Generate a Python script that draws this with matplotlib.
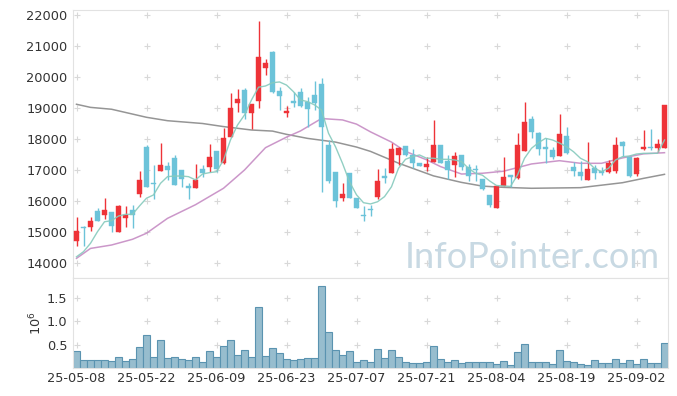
import numpy as np
import matplotlib
matplotlib.use("Agg")
import matplotlib.pyplot as plt

# === Data ===
dates = ["25-05-08", "25-05-22", "25-06-09", "25-06-23", "25-07-07",
         "25-07-21", "25-08-04", "25-08-19", "25-09-02"]
date_pos = [0, 10, 20, 30, 40, 50, 60, 70, 80]

opens = [14720, 15170, 15170, 15680, 15560, 15645, 14990, 15460, 15710, 16230,
         17730, 16560, 16980, 17130, 17390, 17000, 16480, 16430, 17030, 17100,
         17610, 17220, 18070, 19170, 19580, 18850, 19230, 20280, 20800, 19560,
         18850, 19225, 19505, 19185, 19420, 19775, 17800, 16935, 16110, 16890,
         16105, 15530, 15720, 16120, 16800, 16895, 17475, 17775, 17485, 17225,
         17105, 17250, 17815, 17300, 17160, 17485, 17105, 17040, 16710, 16195,
         15785, 16495, 16830, 16730, 17615, 18645, 18185, 17730, 17645, 17460,
         18095, 17085, 16945, 16677, 17055, 16975, 16945, 16975, 17915, 17410,
         16860, 17677, 17750, 17700, 17700]
highs = [15490, 15180, 15480, 15760, 16100, 15650, 15880, 15840, 15870, 16970,
         17800, 17160, 17860, 17260, 17480, 17000, 16590, 17190, 17160, 17830,
         17620, 18350, 19470, 19600, 19635, 19130, 21820, 20570, 20840, 19690,
         19075, 19510, 19635, 19365, 19880, 19960, 17970, 16935, 16570, 16890,
         16105, 15840, 15870, 17020, 17055, 17860, 17730, 17775, 17665, 17230,
         17410, 18610, 17815, 17485, 17590, 17485, 17195, 17160, 16720, 16195,
         16485, 17410, 16830, 18185, 19200, 18740, 18235, 18020, 17730, 18805,
         18375, 17270, 17300, 17895, 17160, 17105, 17325, 18075, 17950, 17420,
         17430, 18290, 18325, 18000, 19100]
lows = [14550, 14560, 15040, 15360, 15410, 14990, 14990, 15170, 15130, 16140,
        16460, 16060, 16980, 16680, 16500, 16460, 16060, 16430, 16780, 16950,
        16945, 17200, 18070, 18880, 18635, 18310, 18990, 20065, 19475, 18930,
        18700, 19040, 19040, 18400, 18935, 16280, 16570, 15815, 16010, 16100,
        15785, 15355, 15500, 16055, 16570, 16890, 17160, 17450, 17075, 17130,
        16980, 17245, 17215, 16710, 16785, 17000, 16655, 16655, 16370, 15795,
        15785, 16490, 16460, 16700, 17600, 18020, 17485, 17215, 17345, 17450,
        17505, 16815, 16675, 16677, 16700, 16840, 16895, 16900, 17460, 16765,
        16805, 17645, 17645, 17590, 17700]
closes = [15030, 15120, 15355, 15360, 15710, 15200, 15840, 15550, 15540, 16680,
          16460, 16540, 17160, 17000, 16520, 16720, 16430, 16680, 16910, 17420,
          17030, 18030, 19000, 19290, 18850, 19130, 20650, 20450, 19530, 19390,
          18910, 19150, 19075, 18975, 19170, 18400, 16655, 16010, 16225, 16105,
          15785, 15510, 15700, 16645, 16750, 17665, 17700, 17485, 17215, 17140,
          17205, 17815, 17215, 17000, 17450, 17110, 16805, 17000, 16380, 15870,
          16485, 16765, 16785, 17805, 18550, 18235, 17665, 17690, 17430, 18160,
          17560, 16980, 16805, 17030, 16895, 16895, 17215, 17805, 17785, 16815,
          17375, 17752, 17710, 17840, 19100]
volumes = [0.362, 0.17, 0.17, 0.17, 0.17, 0.149, 0.227, 0.149, 0.19, 0.44,
           0.695, 0.227, 0.589, 0.206, 0.227, 0.19, 0.17, 0.227, 0.128, 0.362,
           0.227, 0.46, 0.589, 0.277, 0.376, 0.227, 1.29, 0.248, 0.419, 0.312,
           0.19, 0.17, 0.19, 0.206, 0.206, 1.745, 0.759, 0.376, 0.27, 0.355,
           0.128, 0.163, 0.128, 0.397, 0.206, 0.376, 0.227, 0.12, 0.1, 0.1,
           0.12, 0.46, 0.184, 0.12, 0.163, 0.1, 0.12, 0.12, 0.12, 0.12,
           0.078, 0.142, 0.057, 0.333, 0.504, 0.12, 0.12, 0.12, 0.078, 0.376,
           0.142, 0.12, 0.078, 0.057, 0.163, 0.1, 0.1, 0.184, 0.1, 0.163,
           0.078, 0.184, 0.1, 0.1, 0.525]

ma5 = [14200, 14365, 14635, 15010, 15330, 15365, 15515, 15570, 15570, 15840,
       16090, 16195, 16570, 16785, 16805, 16805, 16785, 16680, 16870, 16915,
       16945, 17320, 17970, 18450, 18775, 19260, 19670, 19710, 19815, 19840,
       19740, 19525, 19260, 19205, 19100, 18935, 18185, 17750, 17215, 16620,
       16200, 15945, 15905, 15975, 16140, 16460, 17055, 17345, 17430, 17485,
       17380, 17380, 17345, 17345, 17325, 17270, 17055, 16895, 16830, 16650,
       16500, 16484, 16470, 16840, 17377, 17700, 17881, 18022, 17968, 17870,
       17752, 17590, 17377, 17268, 17055, 16945, 17055, 17323, 17429, 17452,
       17516, 17538, 17538, 17538, 17968]

ma20_idx = [0, 2, 5, 8, 10, 13, 17, 21, 24, 27, 30, 32, 35, 38, 40, 42, 45,
            47, 50, 52, 55, 58, 61, 65, 69, 72, 75, 78, 81, 84]
ma20_val = [14150, 14470, 14580, 14765, 14960, 15440, 15880, 16410, 17000,
            17720, 18060, 18260, 18660, 18615, 18480, 18230, 17900, 17600,
            17330, 17110, 16870, 16895, 16960, 17195, 17300, 17216, 17216,
            17390, 17520, 17558]

ma60_idx = [0, 2, 5, 10, 13, 18, 21, 25, 28, 30, 33, 37, 40, 42, 46, 51, 55,
            58, 61, 65, 72, 78, 81, 84]
ma60_val = [19120, 19020, 18960, 18700, 18590, 18500, 18400, 18290, 18255,
            18150, 18020, 17900, 17740, 17600, 17220, 16810, 16600, 16480,
            16440, 16410, 16430, 16590, 16730, 16860]

# === Style ===
UP = "#EE3338"
DOWN = "#6CC3D9"
GRID = "#D8D8D8"
SPINE = "#E2E2E2"
TXT = "#333333"

plt.rcParams["font.family"] = ["DejaVu Sans"]

fig = plt.figure(figsize=(6.77, 3.96), dpi=100)
ax = fig.add_axes([73 / 677, 1 - 278 / 396, 595 / 677, 268 / 396])
axv = fig.add_axes([73 / 677, 1 - 368 / 396, 595 / 677, 90 / 396], sharex=ax)

x = np.arange(len(closes))
o = np.array(opens)
c = np.array(closes)
up = c >= o
colors = np.where(up, UP, DOWN)

# grid as small plus marks
price_ticks = np.arange(14000, 22001, 1000)
gx, gy = np.meshgrid(date_pos, price_ticks)
ax.scatter(gx.ravel(), gy.ravel(), marker="+", s=18, color=GRID, lw=0.8, zorder=0)

# moving averages
ax.plot(ma60_idx, ma60_val, color="#8A8A8A", lw=1.1, alpha=0.9, zorder=2)
ax.plot(ma20_idx, ma20_val, color="#C68CC4", lw=1.1, alpha=0.9, zorder=2)
ax.plot(x, ma5, color="#86CABD", lw=1.0, alpha=0.9, zorder=4)

# candles
ax.vlines(x, lows, highs, colors=colors, lw=1.0, zorder=3)
body_h = np.maximum(np.abs(c - o), 40)
ax.bar(x, body_h, bottom=np.minimum(o, c), width=0.72, color=colors,
       edgecolor=colors, lw=0.3, zorder=3)

ax.set_xlim(-0.5, 84.5)
ax.set_ylim(13516, 22161)
ax.set_yticks(price_ticks)
ax.set_yticklabels([str(v) for v in price_ticks])
ax.tick_params(axis="y", length=0, labelsize=9.3, colors=TXT, pad=4)
ax.tick_params(axis="x", length=0, labelbottom=False)
for s in ax.spines.values():
    s.set_color(SPINE)

ax.text(0.986, 0.037, "InfoPointer.com", transform=ax.transAxes,
        ha="right", va="baseline", fontsize=26, color="#C8D9E3",
        family=["Lato", "DejaVu Sans"], zorder=1)

# volume
vol_ticks = [0.5, 1.0, 1.5]
vx, vy = np.meshgrid(date_pos, vol_ticks)
axv.scatter(vx.ravel(), vy.ravel(), marker="+", s=18, color=GRID, lw=0.8, zorder=0)
axv.bar(x, volumes, width=1.0, color="#97BDCE", edgecolor="#5A93B0",
        lw=0.8, zorder=2)
axv.set_ylim(0, 1.915)
axv.set_yticks(vol_ticks)
axv.set_yticklabels(["0.5", "1.0", "1.5"])
axv.tick_params(axis="y", length=0, labelsize=9.3, colors=TXT, pad=4)
axv.set_xticks(date_pos)
axv.set_xticklabels(dates)
axv.tick_params(axis="x", length=0, labelsize=9.3, colors=TXT, pad=3)
axv.set_ylabel(r"$10^{6}$", fontsize=9.3, color=TXT, labelpad=2)
for s in axv.spines.values():
    s.set_color(SPINE)

fig.savefig("out.png", dpi=100, facecolor="white")
